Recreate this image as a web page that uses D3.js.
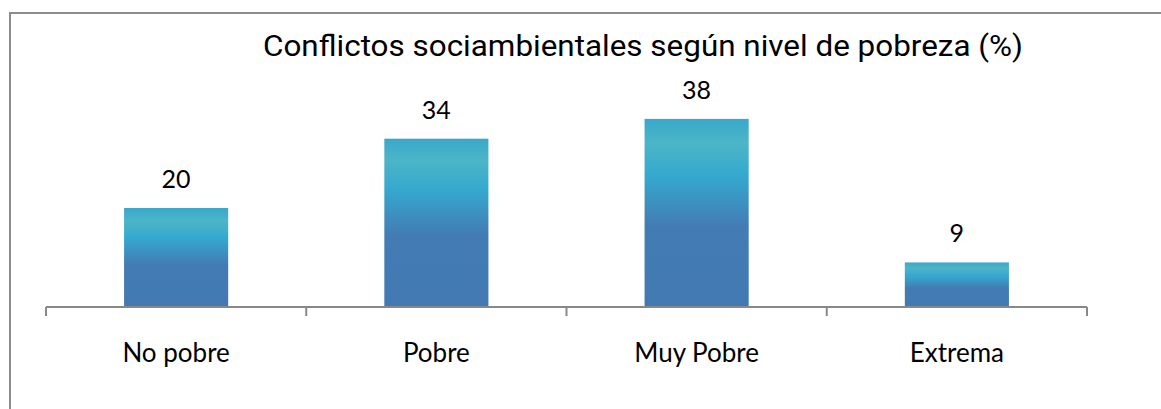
<!DOCTYPE html>
<html>
<head>
<meta charset="utf-8">
<script src="https://cdn.jsdelivr.net/npm/d3@7"></script>
<style>
  body { margin: 0; background: #fff; }
  svg { display: block; }
</style>
</head>
<body>
<svg width="1161" height="409"></svg>
<script>
// Chart data
var categories = ["No pobre", "Pobre", "Muy Pobre", "Extrema"];
var values = [20, 34, 38, 9];
var title = "Conflictos sociambientales según nivel de pobreza (%)";

var svg = d3.select("svg");

// outer frame (only left and top edges show in the picture)
svg.append("rect")
    .attr("x", 10)
    .attr("y", 13)
    .attr("width", 1200)
    .attr("height", 450)
    .attr("fill", "none")
    .attr("stroke", "#8c8c8c")
    .attr("stroke-width", 2);

// gradient for the bars
var grad = svg.append("defs").append("linearGradient")
    .attr("id", "barGrad")
    .attr("x1", 0).attr("y1", 0)
    .attr("x2", 0).attr("y2", 1);
[["0%", "#38a8cb"], ["13%", "#4cb5c7"], ["30%", "#35a9cf"], ["57%", "#437cb4"], ["100%", "#4279b2"]]
    .forEach(function(s) {
        grad.append("stop").attr("offset", s[0]).attr("stop-color", s[1]);
    });

// scales
var xScale = d3.scaleBand()
    .domain(categories)
    .range([46, 1087])
    .paddingInner(0.6)
    .paddingOuter(0.3);

var yScale = d3.scaleLinear()
    .domain([0, 40])
    .range([307, 109]);

// bars
svg.selectAll(".bar")
    .data(values)
    .enter().append("rect")
    .attr("class", "bar")
    .attr("x", function(d, i) { return xScale(categories[i]); })
    .attr("y", function(d) { return yScale(d); })
    .attr("width", xScale.bandwidth())
    .attr("height", function(d) { return yScale(0) - yScale(d); })
    .attr("fill", "url(#barGrad)");

// value labels
svg.selectAll(".val")
    .data(values)
    .enter().append("text")
    .attr("class", "val")
    .attr("x", function(d, i) { return xScale(categories[i]) + xScale.bandwidth() / 2; })
    .attr("y", function(d) { return yScale(d) - 20; })
    .attr("text-anchor", "middle")
    .attr("font-family", "Lato, 'Open Sans', sans-serif")
    .attr("font-size", "25px")
    .attr("fill", "#000")
    .text(function(d) { return d; });

// x axis: ticks between categories
var xAxis = svg.append("g")
    .attr("transform", "translate(0,307)");

xAxis.append("line")
    .attr("x1", 46).attr("x2", 1087)
    .attr("y1", 0).attr("y2", 0)
    .attr("stroke", "#888")
    .attr("stroke-width", 2);

var tickPos = d3.range(categories.length + 1).map(function(i) { return 46 + i * (1087 - 46) / categories.length; });
xAxis.selectAll(".tick")
    .data(tickPos)
    .enter().append("line")
    .attr("x1", function(d) { return d; })
    .attr("x2", function(d) { return d; })
    .attr("y1", 0).attr("y2", 9)
    .attr("stroke", "#888")
    .attr("stroke-width", 2);

xAxis.selectAll(".lbl")
    .data(categories)
    .enter().append("text")
    .attr("x", function(d) { return xScale(d) + xScale.bandwidth() / 2; })
    .attr("y", 55)
    .attr("text-anchor", "middle")
    .attr("font-family", "Lato, 'Open Sans', sans-serif")
    .attr("font-size", "26px")
    .attr("fill", "#000")
    .text(function(d) { return d; });

// title
svg.append("text")
    .attr("x", 643)
    .attr("y", 56)
    .attr("text-anchor", "middle")
    .attr("font-family", "Roboto, 'Liberation Sans', sans-serif")
    .attr("font-size", "30px")
    .attr("textLength", 760)
    .attr("lengthAdjust", "spacingAndGlyphs")
    .attr("fill", "#000")
    .text(title);
</script>
</body>
</html>
